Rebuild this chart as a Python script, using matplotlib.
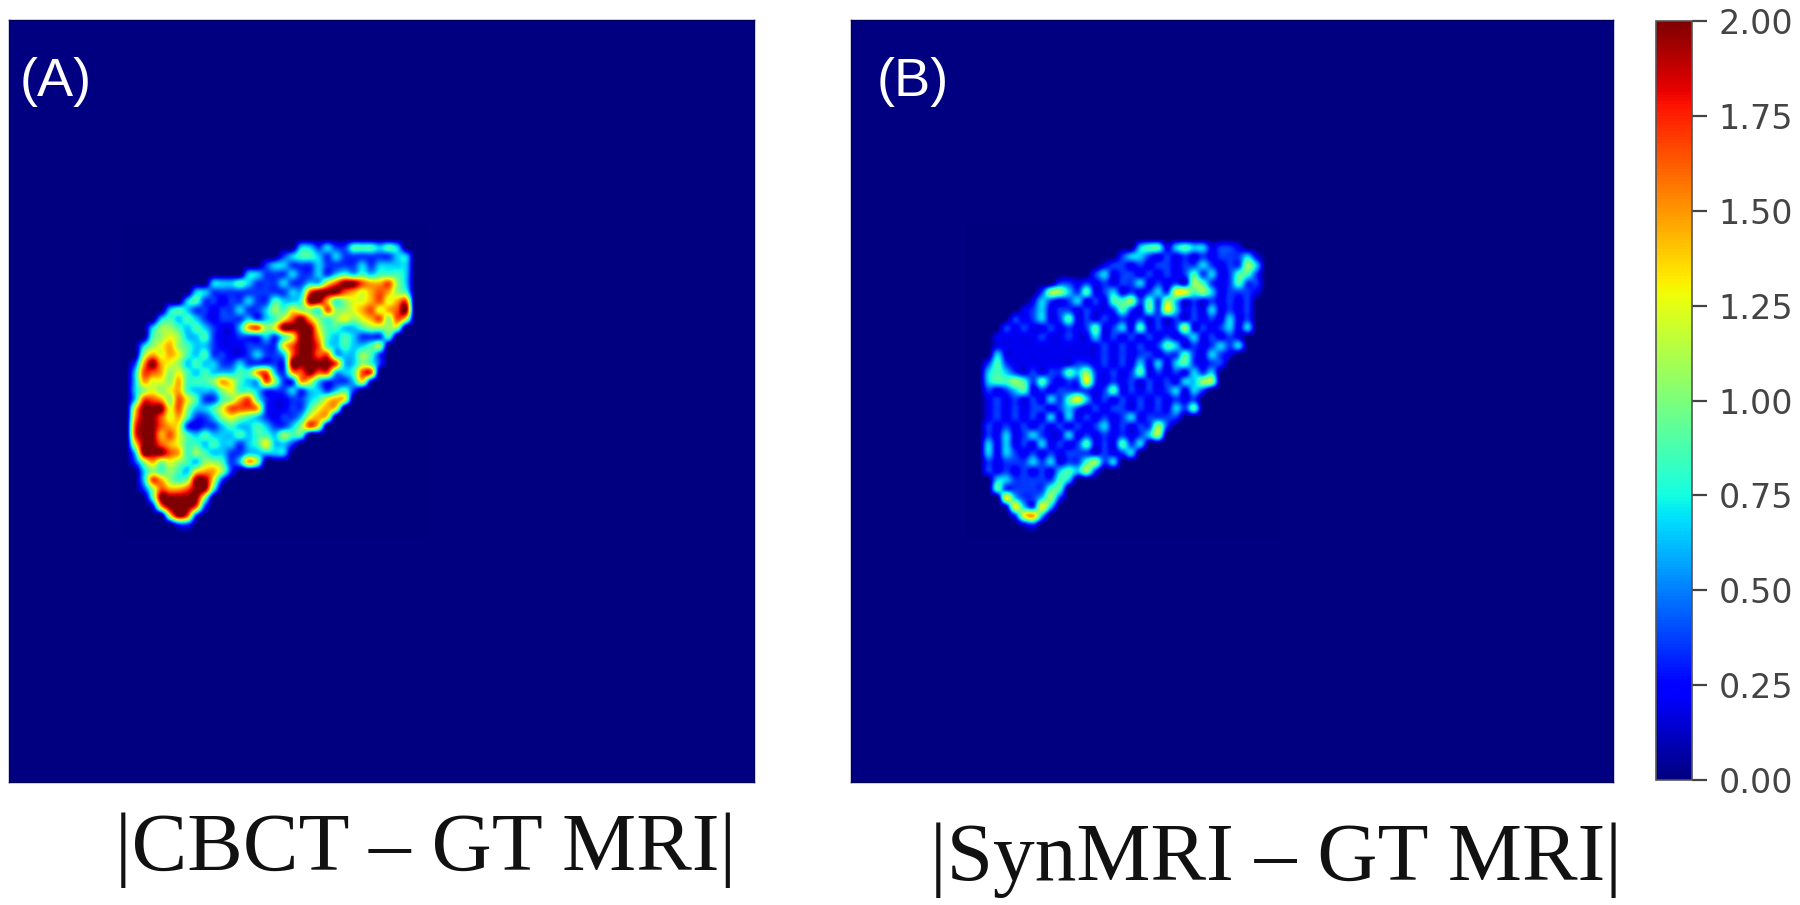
import numpy as np
import matplotlib
matplotlib.use("Agg")
import matplotlib.pyplot as plt

W, H = 1800, 905

# difference levels, 33 x 33 cells around the liver
diff_a = [
    [0],
    [0]*19 + [3,3,2,3,2,2,4,4,4,3,4,3],
    [0]*17 + [2,3,4,4,3,2,3,2,2,2,2,2,2,3,3],
    [0]*15 + [2,3,3,2,2,2,3,2,2,2,2,3,2,3,3,3,3],
    [0]*13 + [3,3,2,2,2,3,2,2,3,2,3,4,3,4,3,4,4,4,3],
    [0]*9 + [3,3,3,4,3,2,2,2,3,2,2,3,3,6,8,9,9,8,7,7,8,5,3],
    [0]*7 + [3,3,2,2,2,2,2,2,2,2,2,3,3,8,9,9,9,8,7,6,7,8,7,5,4],
    [0]*6 + [3,4,2,2,1,2,2,3,2,2,4,3,3,4,9,9,7,4,5,6,6,7,8,6,7,8],
    [0]*4 + [3,4,3,2,2,1,2,2,3,2,2,3,5,4,6,5,5,4,8,5,5,6,7,8,6,7,8,9],
    [0]*3 + [3,4,3,4,3,2,1,2,2,2,3,2,3,4,6,8,9,7,5,4,5,6,5,6,7,8,5,8,6],
    [0]*2 + [3,5,5,4,3,4,3,2,1,1,3,7,8,5,6,9,9,9,9,6,4,4,3,3,4,5,5,5,5],
    [0]*2 + [4,5,6,5,3,3,4,2,1,1,2,2,2,3,2,4,6,9,9,7,4,3,4,3,2,2,2,4],
    [0]*1 + [3,5,6,7,5,4,3,3,2,1,1,1,2,2,2,2,6,8,9,9,8,4,3,4,3,3,4,5],
    [0]*1 + [5,7,6,7,6,4,3,4,2,2,1,1,2,3,2,2,3,8,9,9,8,8,3,3,3,5,4,2],
    [2,7,9,7,6,5,3,4,3,3,2,2,3,2,2,2,2,2,9,9,9,9,9,8,3,3,5,4,2],
    [3,8,8,7,5,6,4,3,4,3,3,3,4,4,7,8,3,2,7,8,9,8,8,3,3,4,8,8],
    [3,7,6,6,5,7,4,4,4,5,7,6,4,3,3,8,5,2,2,7,6,3,2,2,2,3,6,1],
    [3,5,6,5,6,7,4,3,3,3,5,6,4,4,3,2,2,2,3,2,3,3,2,3,4,2],
    [3,8,8,7,5,8,6,4,2,2,4,5,7,8,4,2,1,1,2,2,3,4,6,7,6],
    [6,9,9,9,6,8,5,3,3,4,6,8,8,8,7,2,1,1,2,2,4,6,7,6],
    [7,9,9,8,6,7,4,2,2,3,5,6,5,4,3,2,1,2,2,3,6,7,6],
    [8,9,9,8,7,6,2,1,2,2,3,4,3,3,4,3,2,2,3,5,8,6],
    [8,9,9,7,8,6,4,3,4,3,3,3,4,3,4,4,3,5,4,4],
    [6,9,9,8,7,6,4,4,3,4,3,3,2,3,4,6,3,3,2],
    [3,9,9,9,8,7,4,5,4,3,3,2,2,3,3,3,3,3],
    [2,5,7,5,6,5,4,3,5,5,4,2,3,7,5],
    [0,3,5,4,5,4,3,6,7,7,5,2],
    [0,3,8,7,5,4,5,9,9,6,2],
    [0,2,5,8,7,7,8,9,9,4],
    [0,0,4,9,9,9,9,9,5],
    [0,0,1,7,9,9,9,8,2],
    [0]*4 + [6,9,8,2],
    [0]*5 + [2,2],
]

diff_b = [
    [0],
    [0]*18 + [3,4,4,1,3,4,3,3,1,2,2,1],
    [0]*16 + [2,3,3,2,1,2,1,2,1,2,1,2,2,2,3,1],
    [0]*14 + [1,2,2,1,2,1,2,2,1,2,2,3,2,1,2,2,5,3],
    [0]*13 + [2,3,1,2,2,1,2,1,2,1,2,4,2,3,1,2,4,4,2],
    [0]*9 + [2,2,1,2,1,2,1,2,2,3,1,2,1,2,1,5,4,2,1,2,4,2,2],
    [0]*7 + [2,5,5,3,2,4,1,2,3,1,2,1,2,3,2,6,6,4,5,3,1,2,2,2,1],
    [0]*6 + [1,3,2,1,2,3,1,2,1,4,4,5,2,4,2,5,3,1,2,1,2,1,2,1,2],
    [0]*5 + [1,2,3,1,2,2,1,2,1,1,2,4,2,1,4,2,6,3,1,2,1,3,1,2,1,2],
    [0]*4 + [2,1,2,3,1,2,4,1,2,1,2,1,2,1,2,1,2,1,2,1,2,1,2,1,3,1,2],
    [0]*3 + [2,1,2,1,1,2,1,2,1,2,4,1,2,3,1,4,1,2,1,2,5,1,2,1,2,3,1,3],
    [0]*2 + [1,1,1,1,1,2,1,1,2,1,1,3,1,2,1,2,1,2,1,2,1,2,3,1,2,1,2,1],
    [0]*2 + [1,1,1,1,1,1,1,1,1,1,1,1,2,1,2,1,2,1,2,4,3,1,2,1,2,3,2,3],
    [0]*2 + [3,1,1,1,1,1,1,1,1,1,1,1,2,1,2,1,2,2,1,2,2,4,2,1,3,2,1],
    [0]*1 + [2,4,2,1,1,1,1,1,1,1,2,2,1,2,1,2,1,3,1,3,1,3,4,2,1,2,2],
    [0]*1 + [3,4,3,2,1,2,1,2,2,4,3,5,2,1,2,1,2,4,1,2,1,2,1,3,2,3],
    [0]*1 + [3,4,4,5,4,2,4,2,1,2,2,6,2,1,2,1,2,1,2,1,2,1,3,3,5,5],
    [0]*1 + [2,1,2,3,4,1,2,1,2,2,2,2,1,2,4,1,2,1,2,1,2,3,1,3,2],
    [0]*1 + [1,2,1,2,1,2,1,3,2,4,6,3,1,2,1,2,1,2,1,2,1,2,1,2],
    [0]*1 + [1,2,1,2,1,2,2,1,2,3,2,1,2,1,2,2,1,2,1,2,1,3,2,4],
    [0]*1 + [1,2,1,2,1,2,1,3,1,3,1,2,1,2,1,2,3,1,2,2,2,2],
    [0]*1 + [2,1,2,1,2,1,2,1,2,1,2,1,2,3,1,2,1,2,2,5,2],
    [0]*1 + [2,1,3,1,2,3,2,1,1,3,1,2,1,2,1,2,1,2,3,5],
    [0]*1 + [3,1,3,1,2,1,3,1,2,1,2,4,1,2,1,4,2,3],
    [0]*1 + [3,1,3,2,1,2,1,2,1,2,2,2,1,2,1,2,3],
    [0]*1 + [2,1,2,2,2,3,2,3,1,2,2,4,5,2,3],
    [0]*1 + [2,1,2,1,2,1,2,1,3,4,3,5,2],
    [0]*2 + [3,3,2,2,2,2,2,4,3],
    [0]*2 + [4,2,2,2,2,2,4,4],
    [0]*3 + [6,3,2,2,3,5,2],
    [0]*3 + [1,6,3,2,6,3],
    [0]*4 + [2,6,7,3],
    [0]*5 + [1,2],
]

# value on the colour scale for each level 0-9
level_values = [0.0, 0.2, 0.36, 0.65, 0.85, 1.05, 1.25, 1.45, 1.65, 2.0]

cbar_ticks = [0.0, 0.25, 0.5, 0.75, 1.0, 1.25, 1.5, 1.75, 2.0]
panel_labels = ["(A)", "(B)"]
captions = ["|CBCT – GT MRI|", "|SynMRI – GT MRI|"]


def to_grid(rows):
    # rows stop at the last nonzero cell, one empty cell of margin all round
    grid = np.zeros((35, 35), dtype=int)
    for i, row in enumerate(rows):
        grid[i + 1, 1:len(row) + 1] = row
    return np.array(level_values)[grid]


def px_axes(x0, y0, x1, y1):
    return fig.add_axes([x0 / W, 1 - y1 / H, (x1 - x0) / W, (y1 - y0) / H])


plt.rcParams["font.family"] = "DejaVu Sans"
fig = plt.figure(figsize=(W / 100, H / 100), dpi=100, facecolor="white")

ax_a = px_axes(9, 20, 754, 782)
ax_b = px_axes(851, 20, 1613, 782)

im = None
for ax, rows, label in zip([ax_a, ax_b], [diff_a, diff_b], panel_labels):
    ax.set_facecolor(plt.cm.jet(0.0))
    im = ax.imshow(to_grid(rows), cmap="jet", vmin=0, vmax=2, interpolation="catrom",
                   extent=(38.7, 143.7, 174, 69), aspect="auto")
    ax.set_xlim(0, 256)
    ax.set_ylim(256, 0)
    ax.set_xticks([])
    ax.set_yticks([])
    for s in ax.spines.values():
        s.set_color("#00005a")
        s.set_linewidth(1)
    ax.text(0.014 if ax is ax_a else 0.034, 0.9, label, transform=ax.transAxes, color="white",
            fontsize=39, family="Liberation Sans", va="baseline")

# colorbar
cax = px_axes(1656, 21, 1692, 780)
cb = fig.colorbar(im, cax=cax, ticks=cbar_ticks, format="%.2f")
cb.ax.tick_params(length=11, width=1.6, color="#444444", labelcolor="#444444", labelsize=24, pad=8)
cb.outline.set_edgecolor("#555555")
cb.outline.set_linewidth(1.2)

fig.text(426 / W, 1 - 870 / H, captions[0], family="Liberation Serif", fontsize=60,
         ha="center", va="baseline", color="#111111")
fig.text(1276 / W, 1 - 880 / H, captions[1], family="Liberation Serif", fontsize=60,
         ha="center", va="baseline", color="#111111")

fig.savefig("out.png", dpi=100)
